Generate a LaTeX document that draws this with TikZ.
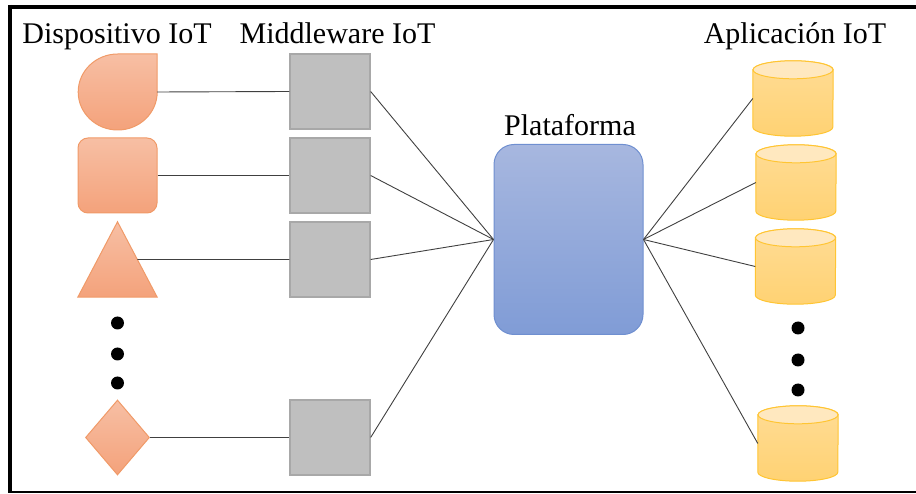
\documentclass[tikz,border=0pt]{standalone}
\usepackage{fontspec}
\setmainfont{Liberation Serif}
\usetikzlibrary{shapes.geometric,calc}

\definecolor{devtop}{HTML}{F7BFA4}
\definecolor{devbot}{HTML}{F4A27B}
\definecolor{devline}{HTML}{F09A68}
\definecolor{mwfill}{HTML}{BFBFBF}
\definecolor{mwline}{HTML}{A8A8A8}
\definecolor{plattop}{HTML}{A7B7DF}
\definecolor{platbot}{HTML}{809CD6}
\definecolor{platline}{HTML}{6F8FD0}
\definecolor{cyltop}{HTML}{FFDC95}
\definecolor{cylbot}{HTML}{FFD273}
\definecolor{cylcapfill}{HTML}{FFE8BF}
\definecolor{cylline}{HTML}{FFC533}
\definecolor{conngray}{HTML}{404040}

\tikzset{
  lbl/.style={font=\fontsize{30}{36}\selectfont, anchor=base, inner sep=0pt},
  conn/.style={draw=conngray, line width=0.9pt},
  devbox/.style={draw=none, minimum width=79pt, minimum height=76pt, inner sep=0pt},
  devshape/.style={draw=devline, line width=1pt, top color=devtop, bottom color=devbot},
  mwbox/.style={draw=mwline, fill=mwfill, line width=1.3pt, minimum width=80pt, minimum height=75pt, inner sep=0pt},
  platbox/.style={rounded corners=20pt, draw=platline, line width=1pt, top color=plattop, bottom color=platbot, minimum width=149pt, minimum height=190pt, inner sep=0pt},
  cylbox/.style={draw=none, minimum width=80pt, minimum height=75pt, inner sep=0pt},
  cylbody/.style={draw=cylline, line width=1pt, top color=cyltop, bottom color=cylbot},
  cylcap/.style={draw=cylline, line width=1pt, fill=cylcapfill}
}

% one application (cylinder): name, position
\newcommand{\appdb}[2]{%
  \node[cylbox] (#1) at (#2) {};
  \path[cylbody] ([yshift=-9pt]#1.north west) -- ([yshift=9pt]#1.south west)
    arc[start angle=180, end angle=360, x radius=40pt, y radius=9pt]
    -- ([yshift=-9pt]#1.north east)
    arc[start angle=0, end angle=180, x radius=40pt, y radius=9pt] -- cycle;
  \path[cylcap] ([yshift=-9pt]#1.north) ellipse [x radius=40pt, y radius=9pt];
}

\begin{document}
\begin{tikzpicture}[x=1pt,y=1pt]
\useasboundingbox (0,0) rectangle (916,493);
%\draw[help lines,step=50] (0,0) grid (916,493);

% frame
\draw[line width=4pt] (916,486) -- (7.5,486);
\draw[line width=4pt] (9.5,488) -- (9.5,0.5);
\draw[line width=1.5pt] (9.5,0.8) -- (916,0.8);

% titles
\node[lbl] (tdev) at (117,449) {Dispositivo IoT};
\node[lbl] (tmw) at (337.5,449) {Middleware IoT};
\node[lbl] (tapp) at (795,449) {Aplicación IoT};
\node[lbl] (tplat) at (570,357) {Plataforma};

% devices
\node[devbox] (d1) at (117.5,401) {};
\draw[devshape] (d1.north east) -- (d1.east)
  arc[start angle=0, end angle=-270, x radius=39.5pt, y radius=38pt] -- cycle;
\node[devbox, devshape, rounded corners=10pt, minimum height=75pt] (d2) at (117.5,317.5) {};
\node[devbox, minimum height=75pt] (d3) at (117.5,233.5) {};
\draw[devshape] (d3.north) -- (d3.south east) -- (d3.south west) -- cycle;
\node[diamond, devshape, minimum width=64pt, minimum height=75pt, inner sep=0pt] (d4) at (117.5,55.5) {};
\foreach \y in {170,139,110}{
  \fill (117.5,\y) circle (6.5pt);
}

% middleware
\foreach \n/\y in {1/401.5, 2/317.5, 3/233.5, 4/55.5}{
  \node[mwbox] (m\n) at (330,\y) {};
}

% platform
\node[platbox] (plat) at (568.5,253.5) {};

% applications
\appdb{c1}{793,394.5}
\appdb{c2}{796,310.5}
\appdb{c3}{795.5,226.5}
\appdb{c4}{798,49.5}
\foreach \y in {165,133,103}{
  \fill (798,\y) circle (6.5pt);
}

% connectors
\foreach \n in {1,2,4}{
  \draw[conn] (d\n.east) -- (m\n.west);
}
\draw[conn] ($(d3.north)!0.5!(d3.south east)$) -- (m3.west);
\foreach \n in {1,...,4}{
  \draw[conn] (m\n.east) -- (plat.west);
  \draw[conn] (plat.east) -- (c\n.west);
}
\end{tikzpicture}
\end{document}
